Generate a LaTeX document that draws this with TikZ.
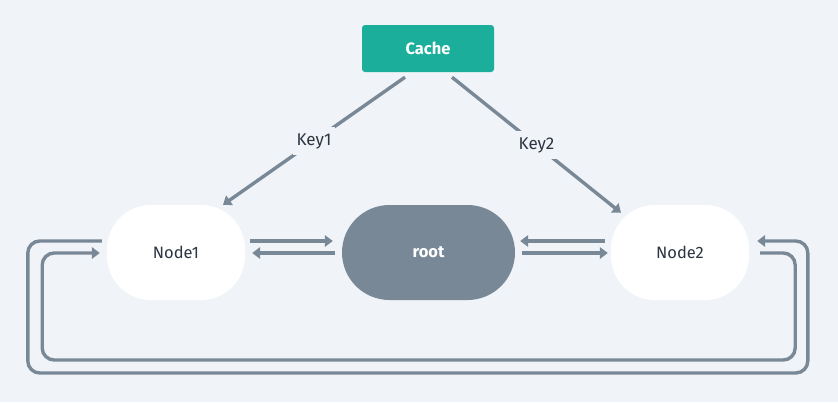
\documentclass[tikz,border=0pt]{standalone}
\usepackage{fontspec}
\setmainfont{Fira Sans}
\usetikzlibrary{arrows.meta}
\definecolor{bgc}{HTML}{F0F3F7}
\definecolor{teal}{HTML}{1BAE9B}
\definecolor{slate}{HTML}{798897}
\definecolor{txt}{HTML}{2D3542}
\tikzset{
  arr/.style={draw=slate, line width=3.4pt, -{Triangle[length=8pt,width=11.5pt]}},
  peer/.style={fill=white, rounded corners=44pt, minimum width=138pt, minimum height=95pt, inner sep=0pt, text=txt, font=\fontsize{16.5}{19}\selectfont},
  rootbox/.style={fill=slate, rounded corners=47.5pt, minimum width=173pt, minimum height=95pt, inner sep=0pt, text=white, font=\fontsize{16.5}{19}\selectfont\bfseries},
  cachebox/.style={fill=teal, rounded corners=3pt, minimum width=132pt, minimum height=47pt, inner sep=0pt, text=white, font=\fontsize{16.5}{19}\selectfont\bfseries},
  keylbl/.style={fill=bgc, text=txt, inner xsep=4pt, inner ysep=6pt, font=\fontsize{17}{20}\selectfont}
}
\begin{document}
\begin{tikzpicture}[x=1pt,y=-1pt]
\fill[bgc] (0,0) rectangle (838,402);
\useasboundingbox (0,0) rectangle (838,402);
\node[cachebox] (cache) at (428,48.5) {Cache};
\node[peer] (node1) at (176,252.5) {Node1};
\node[rootbox] (root) at (428.5,252.5) {root};
\node[peer] (node2) at (680,252.5) {Node2};
% cache to nodes
\draw[arr] ([xshift=-23pt,yshift=-5pt]cache.south) -- node[keylbl]{Key1} ([xshift=47pt]node1.north);
\draw[arr] ([xshift=24pt,yshift=-5pt]cache.south) -- node[keylbl]{Key2} ([xshift=-59pt,yshift=-8pt]node2.north);
% node1 <-> root
\draw[arr] ([xshift=5pt,yshift=11.5pt]node1.east) -- ([xshift=-9pt,yshift=11.5pt]root.west);
\draw[arr] ([xshift=-7pt,yshift=-0.5pt]root.west) -- ([xshift=7pt,yshift=-0.5pt]node1.east);
% root <-> node2
\draw[arr] ([xshift=-6pt,yshift=11.5pt]node2.west) -- ([xshift=5pt,yshift=11.5pt]root.east);
\draw[arr] ([xshift=7pt,yshift=-0.5pt]root.east) -- ([xshift=-3pt,yshift=-0.5pt]node2.west);
% outer loop node1 -> node2
\draw[arr, rounded corners=12pt] ([xshift=-5pt,yshift=11.5pt]node1.west) -- ++(-74,0) -- ++(0,132) -- ++(780,0) -- ++(0,-132) -- ([xshift=8pt,yshift=11.5pt]node2.east);
% inner loop node2 -> node1
\draw[arr, rounded corners=12pt] ([xshift=11pt,yshift=-0.5pt]node2.east) -- ++(35,0) -- ++(0,107) -- ++(-753,0) -- ++(0,-107) -- ([xshift=-7pt,yshift=-0.5pt]node1.west);
\end{tikzpicture}
\end{document}
